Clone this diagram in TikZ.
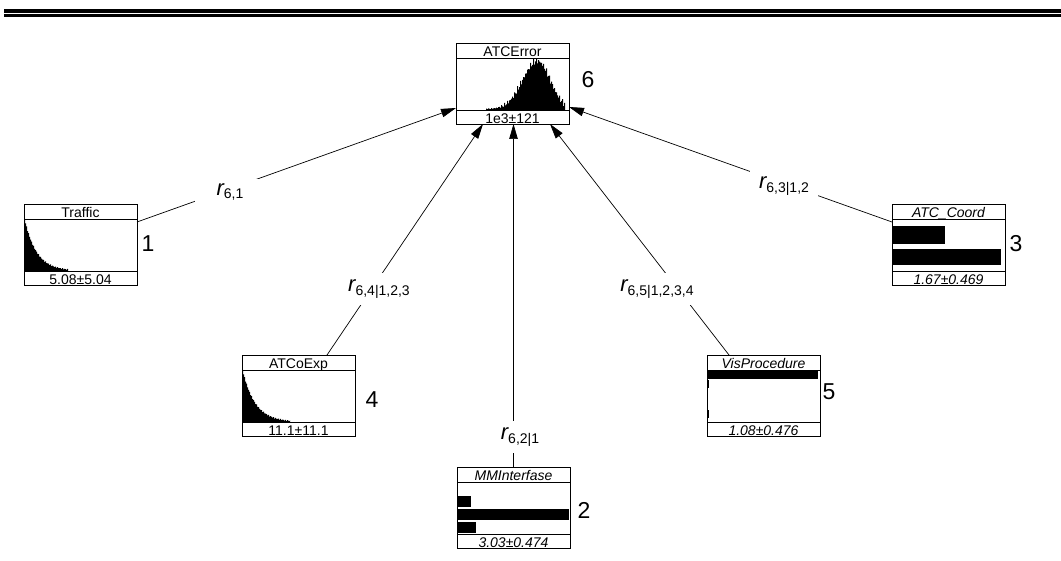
\documentclass[tikz,border=0pt]{standalone}
\usepackage{fontspec}
\setmainfont{Liberation Sans}
\usetikzlibrary{arrows.meta}

\tikzset{
  x=1pt, y=-1pt,
  bnframe/.style={draw, line width=0.8pt, minimum width=113pt, minimum height=81pt,
    inner sep=0pt, outer sep=0pt, anchor=north west},
  sepline/.style={line width=0.8pt},
  boxtext/.style={inner sep=0pt, font=\fontsize{14}{14}\selectfont, anchor=base},
  numlab/.style={inner sep=0pt, font=\fontsize{23}{23}\selectfont},
  rlab/.style={fill=white, inner xsep=6pt, inner ysep=6.5pt},
  link/.style={line width=0.7pt, -{Triangle[length=15pt, width=8.5pt]}},
  hist/.style={fill=black},
  declare function={
    errz(\t)=(\t-81)/(\t<81 ? 21 : 18);
    errh(\t)=48*exp(-errz(\t)*errz(\t)) + 1;
    errj(\t)=max(0.8, errh(\t) + min(1, errh(\t)/8)*(2.2*sin(137*\t)+1.4*sin(113*\t+40)));
    expj(\t,\l)=max(0.8, min(52, 52*exp(-\t/\l) + 0.6*sin(211*\t)));
  }
}

% one variable box: name, top-left corner, title, value, font shape
\newcommand\bnbox[5]{%
  \node[bnframe] (#1) at (#2) {};
  \draw[sepline] ([yshift=-15pt]#1.north west) -- ([yshift=-15pt]#1.north east);
  \draw[sepline] ([yshift=14pt]#1.south west) -- ([yshift=14pt]#1.south east);
  \node[boxtext] (#1-title) at ([yshift=-13.3pt]#1.north) {#5#3};
  \node[boxtext] (#1-value) at ([yshift=0.8pt]#1.south) {#5#4};
}

% correlation label r with a subscript
\newcommand\rsub[1]{{\fontsize{22}{22}\selectfont\itshape r}\raisebox{-3.5pt}{\fontsize{14}{14}\selectfont #1}}

\begin{document}
\begin{tikzpicture}
\useasboundingbox (0,0) rectangle (1061,561);
\fill[white] (0,0) rectangle (1061,561);

% header rules
\draw[line width=3.7pt] (4,10.85) -- (1061,10.85);
\draw[line width=2.3pt] (4,15.5) -- (1061,15.5);

% variable boxes
\bnbox{atcerror}{456,43}{ATCError}{1e3±121}{}
\bnbox{traffic}{24,204}{Traffic}{5.08±5.04}{}
\bnbox{atccoord}{892,204}{ATC\_Coord}{1.67±0.469}{\itshape}
\bnbox{atcoexp}{242,355}{ATCoExp}{11.1±11.1}{}
\bnbox{visproc}{707,355}{VisProcedure}{1.08±0.476}{\itshape}
\bnbox{mminter}{457,467}{MMInterfase}{3.03±0.474}{\itshape}

% histograms and bar charts
\begin{scope}[shift={(atcerror.north west)}]
  \fill[hist] (30,67) -- plot[const plot, domain=30:109, samples=80] (\x,{67-errj(\x)}) -- (109,67) -- cycle;
\end{scope}
\begin{scope}[shift={(traffic.north west)}]
  \fill[hist] (0,67) -- (0,15) -- plot[const plot, domain=0:44, samples=45] (\x,{67-expj(\x,12)}) -- (44,67) -- cycle;
\end{scope}
\begin{scope}[shift={(atcoexp.north west)}]
  \fill[hist] (0,67) -- (0,15) -- plot[const plot, domain=0:48, samples=49] (\x,{67-expj(\x,12.5)}) -- (48,67) -- cycle;
\end{scope}
\begin{scope}[shift={(atccoord.north west)}]
  \fill[hist] (0,22) rectangle (53,40);
  \fill[hist] (0,45) rectangle (109,61);
\end{scope}
\begin{scope}[shift={(visproc.north west)}]
  \fill[hist] (0,16) rectangle (111,24);
  \fill[hist] (0,25) rectangle (2,33);
  \fill[hist] (0,55) rectangle (2,63);
\end{scope}
\begin{scope}[shift={(mminter.north west)}]
  \fill[hist] (0,29) rectangle (14,40);
  \fill[hist] (0,42) rectangle (112,53);
  \fill[hist] (0,55) rectangle (19,66);
\end{scope}

% node numbers
\node[numlab] (n6) at (588,80) {6};
\node[numlab] (n1) at (148,244) {1};
\node[numlab] (n3) at (1016,244) {3};
\node[numlab] (n4) at (372,400) {4};
\node[numlab] (n5) at (829,392) {5};
\node[numlab] (n2) at (584,510) {2};

% links into ATCError
\draw[link] ([yshift=-18pt]traffic.north east) -- ([yshift=16pt]atcerror.south west);
\draw[link] (mminter.north) -- ([xshift=1pt]atcerror.south);
\draw[link] ([yshift=-18pt]atccoord.north west) -- ([yshift=17pt]atcerror.south east);
\draw[link] ([xshift=28.5pt]atcoexp.north) -- ([xshift=-29.5pt]atcerror.south);
\draw[link] ([xshift=-34.5pt]visproc.north) -- ([xshift=37.5pt]atcerror.south);

% link labels, their white boxes open a gap in the links
\node[rlab, inner xsep=22pt, inner ysep=4pt] (r61) at (230,192) {\rsub{6,1}};
\node[rlab] (r62) at (520,437) {\rsub{6,2|1}};
\node[rlab, inner xsep=9pt, inner ysep=8.5pt] (r63) at (784,186) {\rsub{6,3|1,2}};
\node[rlab] (r64) at (379,289) {\rsub{6,4|1,2,3}};
\node[rlab] (r65) at (657,289) {\rsub{6,5|1,2,3,4}};
\end{tikzpicture}
\end{document}
